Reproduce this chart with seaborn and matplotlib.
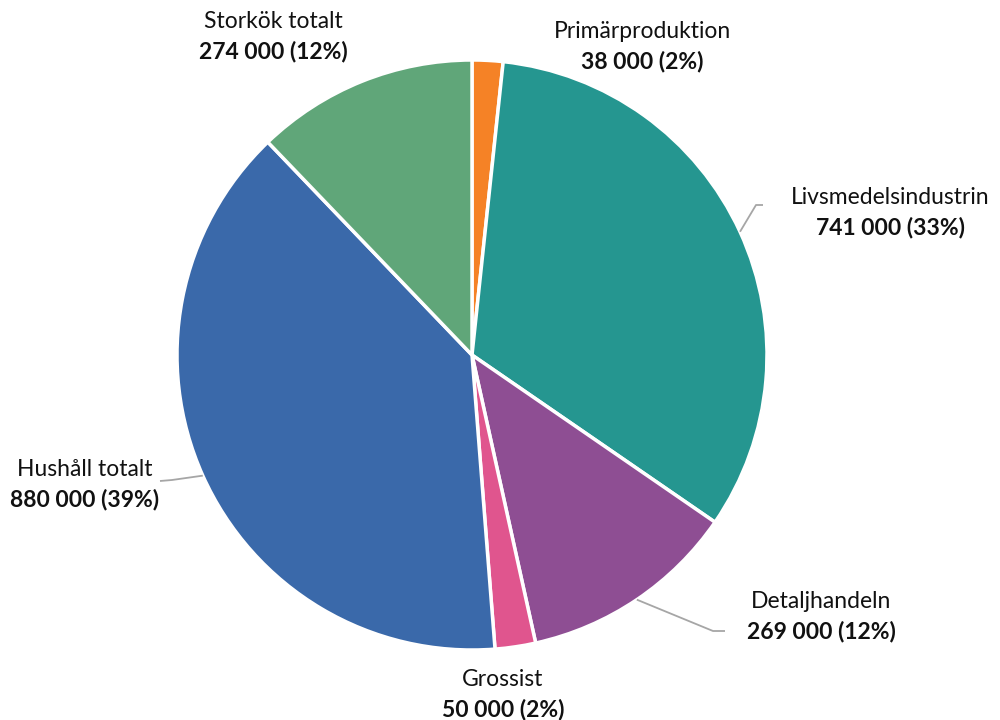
import numpy as np
import matplotlib
matplotlib.use("Agg")
import matplotlib.pyplot as plt
import seaborn as sns

# Food waste by stage of the chain (tonnes)
categories = ["Primärproduktion", "Livsmedelsindustrin", "Detaljhandeln",
              "Grossist", "Hushåll totalt", "Storkök totalt"]
values = [38000, 741000, 269000, 50000, 880000, 274000]
colors = ["#F58226", "#259690", "#8E4E93", "#E0558E", "#3A69AA", "#60A679"]

sns.set_theme(style="white")
plt.rcParams["font.family"] = ["Lato", "DejaVu Sans"]

W, H = 1000, 720
fig = plt.figure(figsize=(W / 100, H / 100), dpi=100)
ax = fig.add_axes([0, 0, 1, 1])

cx, cy, R = 472, H - 355, 295
wedges, _ = ax.pie(values, colors=colors, startangle=90, counterclock=False,
                   center=(cx, cy), radius=R, frame=True,
                   wedgeprops=dict(edgecolor="white", linewidth=2.5))
ax.set_xlim(0, W)
ax.set_ylim(0, H)
ax.set_axis_off()

total = sum(values)

# label anchors (text centre, top line) and optional leader elbow/end points
label_pos = {
    "Primärproduktion": (642, 31),
    "Livsmedelsindustrin": (890, 197),
    "Detaljhandeln": (821, 601),
    "Grossist": (503, 680),
    "Hushåll totalt": (85, 470),
    "Storkök totalt": (273, 21),
}
leaders = {
    "Livsmedelsindustrin": [(756, 205), (763, 205)],
    "Detaljhandeln": [(713, 631), (725, 631)],
    "Hushåll totalt": [(172, 480), (160, 481)],
}

for w, name, v in zip(wedges, categories, values):
    x, y = label_pos[name]
    pct = round(v / total * 100)
    vtxt = f"{v:,}".replace(",", " ") + f" ({pct}%)"
    ax.text(x, H - y, name, ha="center", va="center", fontsize=16.5,
            color="#111111")
    ax.text(x, H - y - 30, vtxt, ha="center", va="center", fontsize=16.5,
            fontweight="bold", color="#111111")
    if name in leaders:
        mid = np.deg2rad((w.theta1 + w.theta2) / 2)
        sx = cx + R * np.cos(mid)
        sy = cy + R * np.sin(mid)
        pts = [(sx, sy)] + [(px, H - py) for px, py in leaders[name]]
        xs, ys = zip(*pts)
        ax.plot(xs, ys, color="#A6A6A6", linewidth=1.3, solid_capstyle="butt")

fig.savefig("out.png", dpi=100, facecolor="white")
